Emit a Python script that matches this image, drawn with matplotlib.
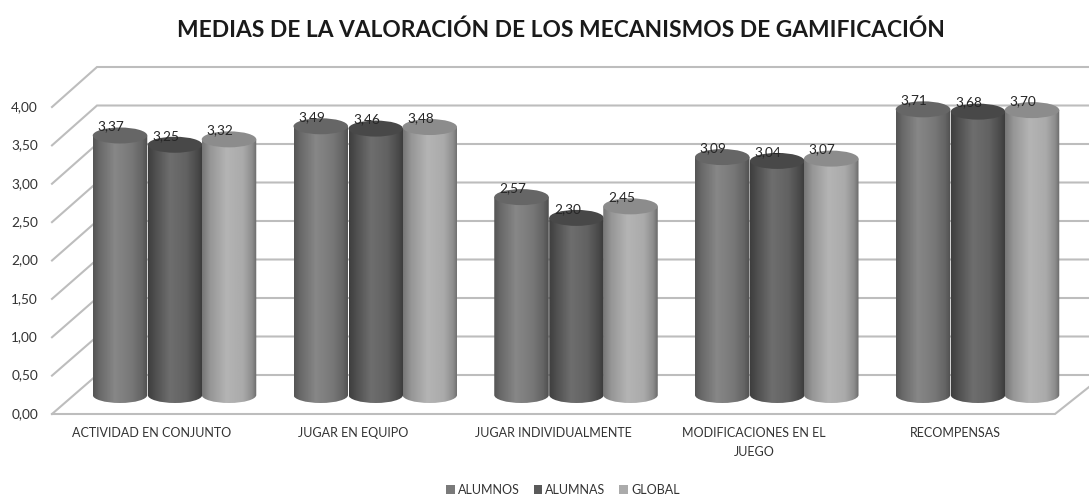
import numpy as np
import matplotlib
matplotlib.use("Agg")
import matplotlib.pyplot as plt
from matplotlib.patches import Ellipse, PathPatch, Patch
from matplotlib.path import Path

categories = ["ACTIVIDAD EN CONJUNTO", "JUGAR EN EQUIPO", "JUGAR INDIVIDUALMENTE",
              "MODIFICACIONES EN EL\nJUEGO", "RECOMPENSAS"]
alumnos = [3.37, 3.49, 2.57, 3.09, 3.71]
alumnas = [3.25, 3.46, 2.30, 3.04, 3.68]
global_ = [3.32, 3.48, 2.45, 3.07, 3.70]
series_names = ["ALUMNOS", "ALUMNAS", "GLOBAL"]
y_ticks = [0, 0.5, 1, 1.5, 2, 2.5, 3, 3.5, 4]
title = "MEDIAS DE LA VALORACIÓN DE LOS MECANISMOS DE GAMIFICACIÓN"

W, H = 1089, 496
plt.rcParams['font.family'] = ['Lato', 'DejaVu Sans']
fig = plt.figure(figsize=(W / 100, H / 100), dpi=100)
ax = fig.add_axes([0, 0, 1, 1])

# data scale: x = group index, y = value; pixel geometry of the pseudo-3D box
X0, XU = 175.0, 200.75
Y0, YU = 395.0, 77.0
xlim = (-X0 / XU, (W - X0) / XU)
ylim = ((Y0 - H) / YU, Y0 / YU)
dx = lambda px: (px - X0) / XU
dy = lambda px: (Y0 - px) / YU

GRID = "#bdbdbd"
TXT = "#333333"
FL, BL, FB, BB = 52, 97, 414, 375
FR = 1055
FU = (414 - 107) / 4
BU = (375 - 67) / 4
for v in y_ticks:
    yf = FB - FU * v
    yb = BB - BU * v
    ax.plot([dx(FL), dx(BL), dx(W)], [dy(yf), dy(yb), dy(yb)], color=GRID, lw=1.5, zorder=1,
            solid_joinstyle="miter")
    ax.text(dx(38), dy(yf), f"{v:.2f}".replace(".", ","), ha="right", va="center",
            fontsize=9.8, color=TXT)
ax.plot([dx(FL), dx(FR), dx(1089)], [dy(FB), dy(FB), dy(387)], color=GRID, lw=1.5, zorder=1,
        solid_joinstyle="miter")

stops = {
    0: ([0, .12, .4, .7, .9, 1], [85, 105, 135, 120, 100, 78], "#666666"),
    1: ([0, .12, .4, .7, .9, 1], [62, 78, 110, 98, 74, 58], "#484848"),
    2: ([0, .15, .45, .75, .92, 1], [118, 150, 180, 170, 140, 105], "#8c8c8c"),
}
offsets = [-55 / XU, 0, 54 / XU]
bw = 54.5 / XU
eh = 8 / YU
K = 0.5523
all_series = [alumnos, alumnas, global_]
zo = 3
for g in range(len(categories)):
    for s, vals in enumerate(all_series):
        v = vals[g]
        cx = g + offsets[s]
        l, r = cx - bw / 2, cx + bw / 2
        pos, gray, top_c = stops[s]
        verts = [(l, v), (l, 0), (l, -K * eh), (cx - K * bw / 2, -eh), (cx, -eh),
                 (cx + K * bw / 2, -eh), (r, -K * eh), (r, 0), (r, v), (l, v)]
        codes = [Path.MOVETO, Path.LINETO, Path.CURVE4, Path.CURVE4, Path.CURVE4,
                 Path.CURVE4, Path.CURVE4, Path.CURVE4, Path.LINETO, Path.CLOSEPOLY]
        clip = PathPatch(Path(verts, codes), fc="none", ec="none", transform=ax.transData)
        ax.add_patch(clip)
        grad = np.interp(np.linspace(0, 1, 128), pos, gray)[None, :] / 255
        im = ax.imshow(grad, extent=(l, r, -eh, v), aspect="auto", cmap="gray", vmin=0, vmax=1,
                       zorder=zo, interpolation="bilinear")
        im.set_clip_path(clip)
        ax.add_patch(Ellipse((cx, v), bw, 2 * eh, fc=top_c, ec="none", zorder=zo + 0.1))
        zo += 1

for g in range(len(categories)):
    for s, vals in enumerate(all_series):
        v = vals[g]
        cx = g + offsets[s]
        ax.text(cx - 9 / XU, v + 9 / YU, f"{v:.2f}".replace(".", ","), ha="center", va="center",
                fontsize=9.8, color="#262626", zorder=50)
    ax.text(g + (152 - 175) / XU, dy(427), categories[g], ha="center", va="top",
            fontsize=9, color=TXT, linespacing=1.72, zorder=50)

ax.text(dx(561), dy(30), title, ha="center", va="center", fontsize=16.4,
        fontweight="bold", color="#1a1a1a")

handles = [Patch(fc=c, ec="none", label=n) for c, n in zip(["#7a7a7a", "#5a5a5a", "#ababab"], series_names)]
ax.legend(handles=handles, loc="center", bbox_to_anchor=(563 / W, 1 - 490 / H), ncol=3,
          frameon=False, fontsize=9, handlelength=0.7, handleheight=0.7, handletextpad=0.25,
          columnspacing=1.1, borderpad=0, labelcolor=TXT)

ax.set_xlim(xlim)
ax.set_ylim(ylim)
ax.axis("off")
fig.savefig("out.png", dpi=100, facecolor="white")
